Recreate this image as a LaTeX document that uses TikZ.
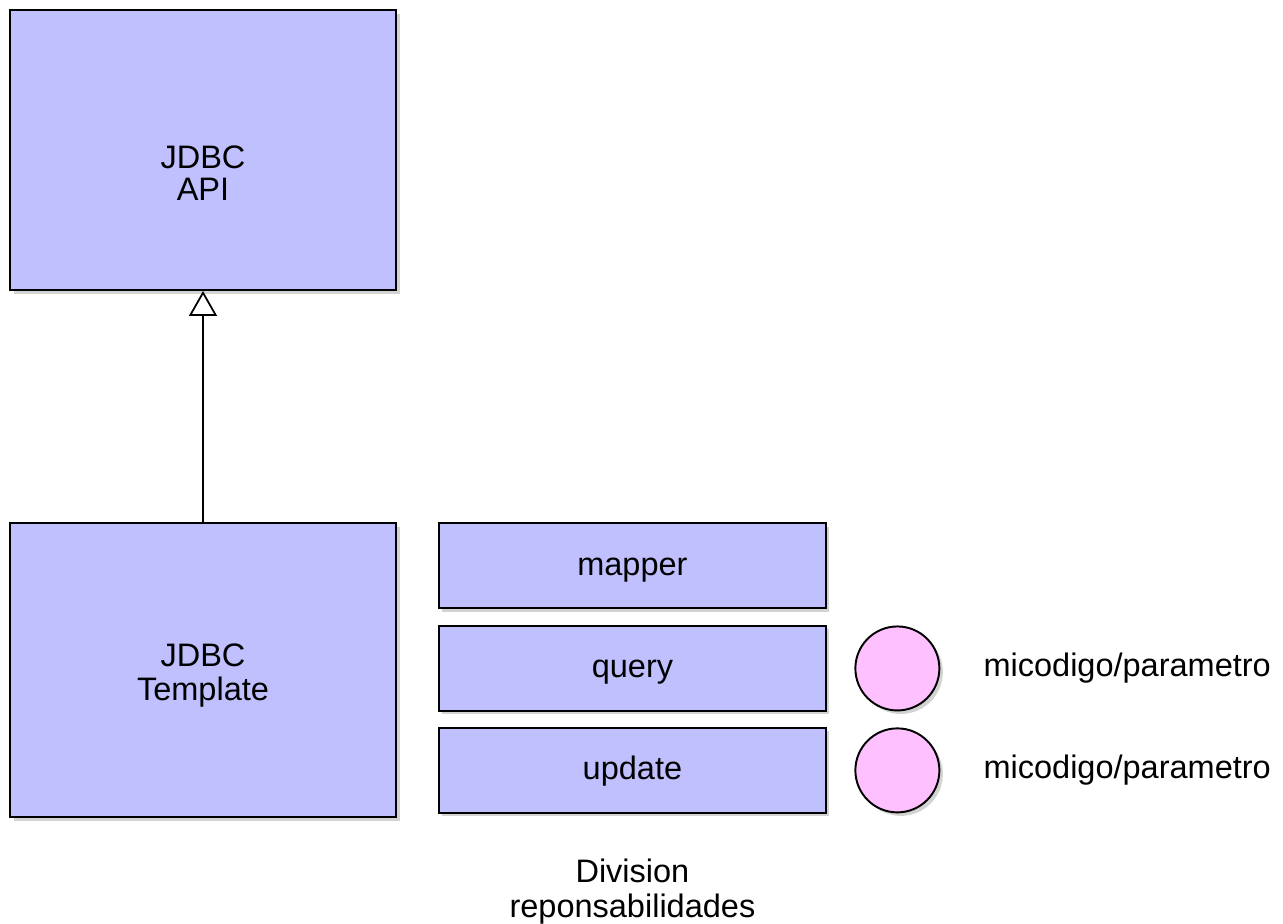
\documentclass[tikz,border=0pt]{standalone}
\usepackage{fontspec}
\setmainfont{Liberation Sans}
\usepackage{tikz}
\usetikzlibrary{arrows.meta,positioning,shadows}
\definecolor{boxblue}{HTML}{C0C0FF}
\definecolor{rolpink}{HTML}{FFC0FF}

\begin{document}
\begin{tikzpicture}[
	clase/.style={draw=black,line width=1.1pt,fill=boxblue,minimum width=7.72cm,align=center,font=\fontsize{18.5}{19}\selectfont,drop shadow={shadow xshift=2pt,shadow yshift=-2pt,opacity=0.35}},
	metodo/.style={clase,minimum width=7.74cm,minimum height=1.7cm,text height=0.38cm,text depth=0pt},
	rol/.style={circle,draw=black,line width=1.1pt,fill=rolpink,minimum size=1.68cm,inner sep=0pt,drop shadow={shadow xshift=2pt,shadow yshift=-2pt,opacity=0.35}},
	txt/.style={align=center,font=\fontsize{18.5}{19}\selectfont},
	hereda/.style={-{Triangle[open,length=0.5cm,width=0.56cm]},line width=1pt}
	]
	\useasboundingbox (0,0) rectangle (25.66,-18.46);
	\node[clase,minimum height=5.6cm,font=\fontsize{18.5}{18}\selectfont,text height=2.2cm,text depth=0.2cm] (api) at (4.06,-3.0) {JDBC\\API};
	\node[clase,minimum height=5.88cm,text height=1.4cm,text depth=0.2cm] (tmpl) at (4.06,-13.4) {JDBC\\Template};
	\node[metodo,anchor=north west] (mapper) at ([xshift=0.82cm]tmpl.north east) {mapper};
	\node[metodo] (query) [below=0.32cm of mapper] {query};
	\node[metodo] (update) [below=0.3cm of query] {update};
	\node[rol] (r1) [right=0.55cm of query] {};
	\node[rol] (r2) [right=0.55cm of update] {};
	\node[txt,anchor=west] (p1) [right=0.74cm of r1] {micodigo/parametro};
	\node[txt,anchor=west] (p2) [right=0.74cm of r2] {micodigo/parametro};
	\node[txt,font=\fontsize{18.5}{20}\selectfont] (div) [below=0.78cm of update] {Division\\reponsabilidades};
	% herencia
	\draw[hereda] (tmpl) -- (api);
\end{tikzpicture}
\end{document}
